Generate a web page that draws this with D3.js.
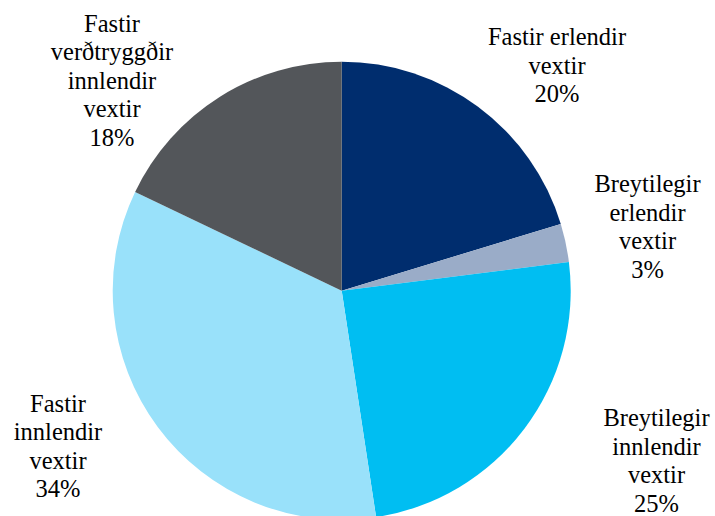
<!DOCTYPE html>
<html>
<head>
<meta charset="utf-8">
<script src="https://cdn.jsdelivr.net/npm/d3@7"></script>
<style>
  body { margin: 0; background: #fff; }
  svg { display: block; }
</style>
</head>
<body>
<div id="chart"></div>
<script>
// Slice data, clockwise from 12 o'clock
const categories = [
    ["Fastir erlendir", "vextir"],
    ["Breytilegir", "erlendir", "vextir"],
    ["Breytilegir", "innlendir", "vextir"],
    ["Fastir", "innlendir", "vextir"],
    ["Fastir", "verðtryggðir", "innlendir", "vextir"]
];
const shares = [20.3, 2.7, 24.6, 34.5, 17.9];
const pctLabels = ["20%", "3%", "25%", "34%", "18%"];
const colors = ["#002D6E", "#9AACC8", "#00BEF2", "#99E1FA", "#53565A"];

const width = 715, height = 516;
const cx = 341.7, cy = 290.7, radius = 229;
const fontSize = 24.5, lineH = 28.5;

// label anchors: centre x and first baseline (layout only)
const labelPos = [[557, 45], [647.5, 192], [656.5, 426], [58, 411.5], [112, 31.5]];

const svg = d3.select("#chart").append("svg")
    .attr("width", width)
    .attr("height", height);

const pie = d3.pie().sort(null).value(d => d);
const arc = d3.arc().innerRadius(0).outerRadius(radius);

const g = svg.append("g").attr("transform", `translate(${cx}, ${cy})`);

g.selectAll("path")
    .data(pie(shares))
    .enter()
    .append("path")
    .attr("d", arc)
    .attr("fill", (d, i) => colors[i]);

// Labels
categories.forEach(function(lines, i) {
    const allLines = lines.concat([pctLabels[i]]);
    const t = svg.append("text")
        .attr("x", labelPos[i][0])
        .attr("y", labelPos[i][1])
        .attr("text-anchor", "middle")
        .attr("font-family", "Liberation Serif, serif")
        .attr("font-size", fontSize)
        .attr("fill", "#000");
    allLines.forEach(function(line, j) {
        t.append("tspan")
            .attr("x", labelPos[i][0])
            .attr("y", labelPos[i][1] + j * lineH)
            .text(line);
    });
});
</script>
</body>
</html>
